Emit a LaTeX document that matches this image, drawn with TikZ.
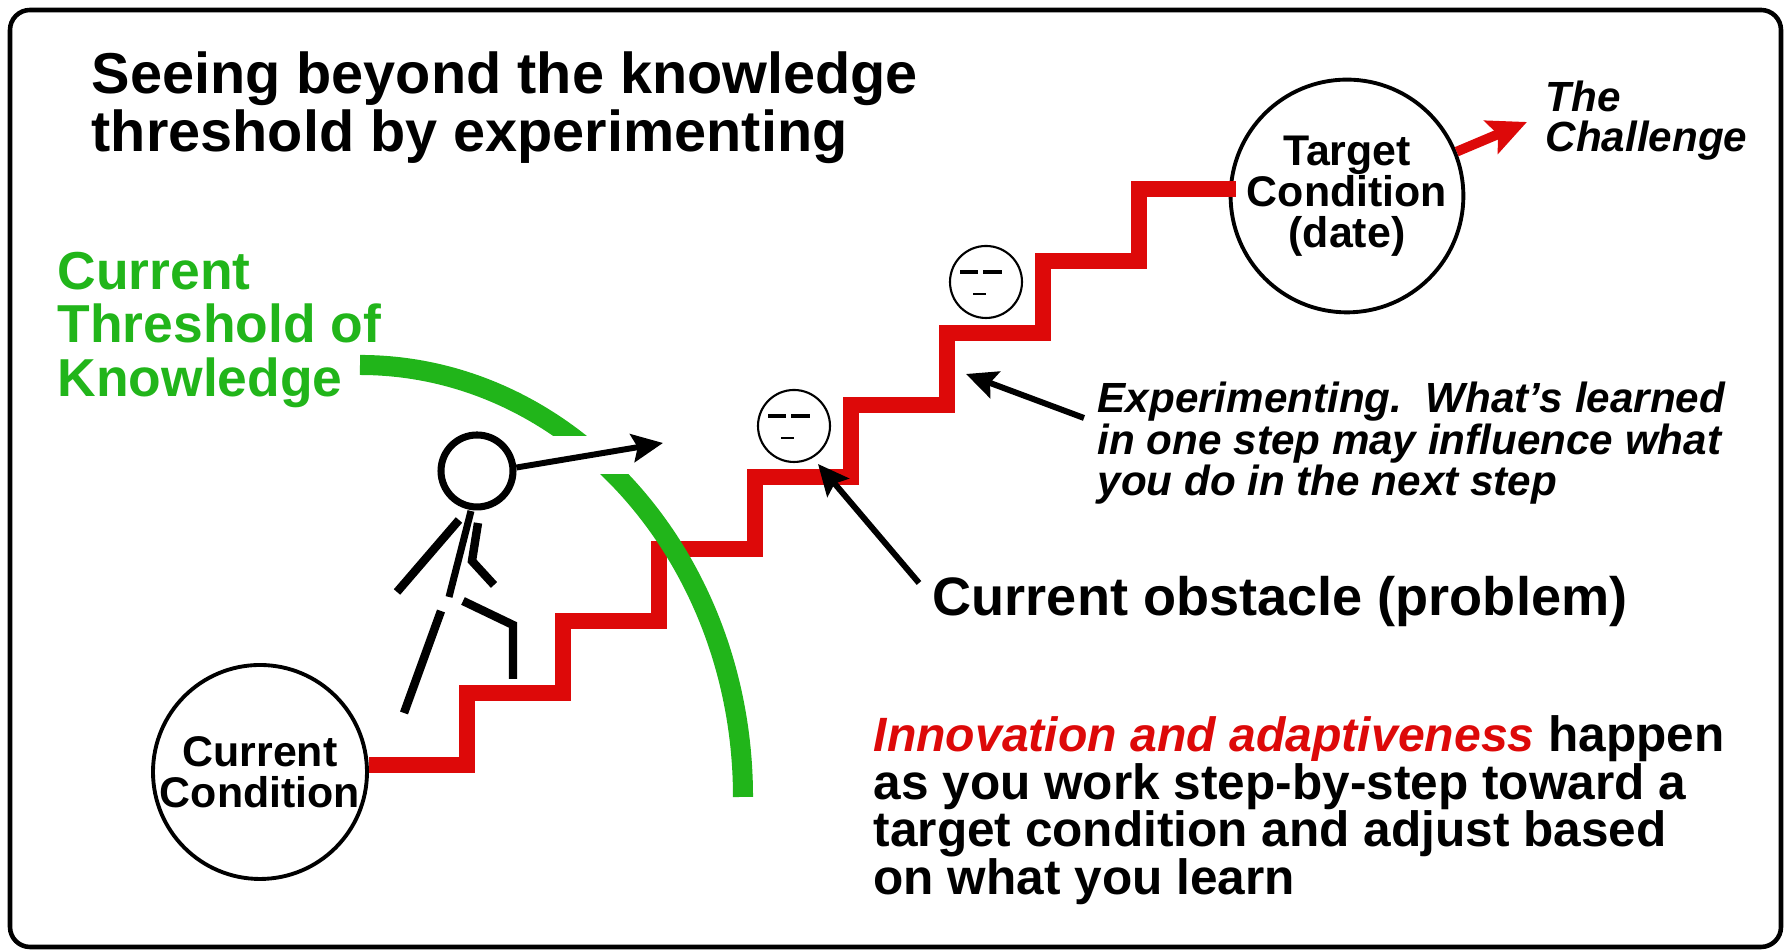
\documentclass[tikz,border=0pt]{standalone}
\usepackage{fontspec}
\setmainfont{Liberation Sans}
\usepackage{tikz}
\usetikzlibrary{arrows.meta}
\definecolor{stairred}{RGB}{221,9,9}
\definecolor{limit}{RGB}{33,181,26}
\tikzset{
  frame/.style={line width=1.3pt, rounded corners=2mm},
  txt/.style={anchor=base west, inner sep=0pt},
  headline/.style={txt, font=\fontsize{16.4}{16}\selectfont\bfseries},
  thresh/.style={txt, text=limit, font=\fontsize{15.2}{15}\selectfont\bfseries},
  note/.style={txt, font=\fontsize{15.4}{15}\selectfont\bfseries},
  aside/.style={txt, font=\fontsize{12}{12}\selectfont\bfseries\itshape},
  moral/.style={txt, font=\fontsize{14.1}{14}\selectfont\bfseries},
  cond/.style={circle, draw, line width=1.1pt, fill=white, inner sep=0pt,
              align=center, font=\fontsize{12.2}{11.7}\selectfont\bfseries},
  face/.style={circle, draw, line width=0.6pt, minimum size=7.2mm, inner sep=0pt},
  eye/.style={line width=1.4pt},
  mouth/.style={line width=0.8pt},
  limb/.style={line width=2.4pt},
  stair/.style={stairred, line width=4.5pt},
  threshold/.style={limit, line width=5.7pt},
  pointer/.style={-{Stealth[length=8.8pt,width=8pt,inset=1.5pt]}, line width=1.7pt},
  push/.style={-{Stealth[length=11pt,width=10pt,inset=2pt]}, stairred, line width=2.8pt},
}

\begin{document}
\begin{tikzpicture}
    \useasboundingbox (0,0) rectangle (17.86,9.51);
    \draw[frame] (0.10,0.04) rectangle (17.81,9.41);
    % --- heading ---
    \node[headline] (title1) at (0.91,8.57) {Seeing beyond the knowledge};
    \node[headline] (title2) at (0.91,7.99) {threshold by experimenting};
    % --- where we stand and where we go ---
    \node[cond, minimum size=21.4mm] (cur) at (2.60,1.79) {Current\\Condition};
    \node[cond, minimum size=21.6mm] (target) at (13.47,7.55) {Target\\Condition\\(date)};
    \draw[stair] (cur.east) ++(0,0.07) -- ++(0.98,0)
      -- ++(0,0.72) -- ++(0.96,0) -- ++(0,0.72) -- ++(0.96,0) -- ++(0,0.72) -- ++(0.96,0)
      -- ++(0,0.72) -- ++(0.96,0) -- ++(0,0.72) -- ++(0.96,0) -- ++(0,0.72) -- ++(0.96,0)
      -- ++(0,0.72) -- ++(0.96,0) -- ++(0,0.72) -- ++(0.97,0);
    \node[aside] (ch1) at (15.45,8.39) {The};
    \node[aside] (ch2) at (15.45,7.99) {Challenge};
    \coordinate (chal) at (15.27,8.29);
    \draw[push] (target.22) -- (chal);
    % --- the threshold of knowledge, open where the gaze goes through ---
    \node[thresh] (th1) at (0.57,6.61) {Current};
    \node[thresh] (th2) at (0.57,6.08) {Threshold of};
    \node[thresh] (th3) at (0.57,5.54) {Knowledge};
    \begin{scope}
      \clip (3.4,5.15) rectangle (8.0,6.3);
      \draw[threshold] (3.60,5.86) arc[start angle=90, end angle=0, x radius=3.83, y radius=4.32];
    \end{scope}
    \begin{scope}
      \clip (3.4,1.0) rectangle (8.0,4.76);
      \draw[threshold] (3.60,5.86) arc[start angle=90, end angle=0, x radius=3.83, y radius=4.32];
    \end{scope}
    % --- the climber ---
    \node[circle, draw, line width=2pt, minimum size=7.2mm, inner sep=0pt] (head) at (4.77,4.80) {};
    \draw[limb, line width=2pt] (4.71,4.40) -- (4.49,3.54);
    \draw[limb] (4.59,4.31) -- (3.97,3.59);
    \draw[limb] (4.78,4.28) -- (4.72,3.90) -- (4.94,3.66);
    \draw[limb] (4.63,3.50) -- (5.13,3.26) -- (5.13,2.72);
    \draw[limb] (4.41,3.40) -- (4.04,2.38);
    \coordinate (gaze) at (6.63,5.08);
    \draw[pointer] (head.5) -- (gaze);
    % --- obstacles on the steps ---
    \node[face] (f1) at (7.94,5.25) {};
    \draw[eye] ([shift={(-0.26,0.10)}]f1.center) -- ++(0.18,0);
    \draw[eye] ([shift={(-0.03,0.10)}]f1.center) -- ++(0.19,0);
    \draw[mouth] ([shift={(-0.13,-0.12)}]f1.center) -- ++(0.13,0);
    \node[face] (f2) at (9.86,6.69) {};
    \draw[eye] ([shift={(-0.26,0.10)}]f2.center) -- ++(0.18,0);
    \draw[eye] ([shift={(-0.03,0.10)}]f2.center) -- ++(0.19,0);
    \draw[mouth] ([shift={(-0.13,-0.12)}]f2.center) -- ++(0.13,0);
    % --- notes ---
    \node[note] (obst) at (9.32,3.35) {Current obstacle (problem)};
    \coordinate (obstTail) at (9.19,3.68);
    \coordinate (obstTip) at (8.18,4.87);
    \draw[pointer] (obstTail) -- (obstTip);
    \node[aside] (exp1) at (10.97,5.38) {Experimenting.\ \ What’s learned};
    \node[aside] (exp2) at (10.97,4.96) {in one step may influence what};
    \node[aside] (exp3) at (10.97,4.55) {you do in the next step};
    \coordinate (expTail) at (10.84,5.33);
    \coordinate (expTip) at (9.66,5.77);
    \draw[pointer] (expTail) -- (expTip);
    \node[moral] (m1) at (8.73,1.99)
      {\textcolor{stairred}{\fontsize{13.7}{14}\selectfont\itshape Innovation and adaptiveness} happen};
    \node[moral] (m2) at (8.73,1.515) {as you work step-by-step toward a};
    \node[moral] (m3) at (8.73,1.04) {target condition and adjust based};
    \node[moral] (m4) at (8.73,0.565) {on what you learn};
\end{tikzpicture}
\end{document}
